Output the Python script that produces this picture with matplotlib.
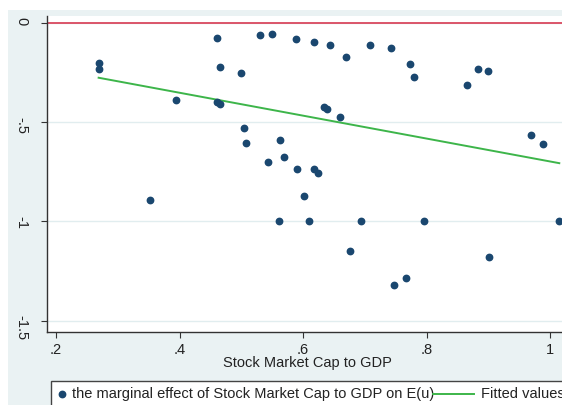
import matplotlib
matplotlib.use("Agg")
import matplotlib.pyplot as plt
from matplotlib.patches import Rectangle
from matplotlib.lines import Line2D

plt.rcParams['font.family'] = 'Liberation Sans'

# stock market cap / GDP vs marginal effect on E(u)
mcap = [0.269, 0.269, 0.352, 0.395, 0.460, 0.461, 0.466, 0.466, 0.500, 0.504,
        0.508, 0.530, 0.544, 0.550, 0.561, 0.562, 0.569, 0.589, 0.590, 0.602,
        0.609, 0.618, 0.618, 0.625, 0.634, 0.639, 0.643, 0.660, 0.669, 0.676,
        0.694, 0.709, 0.743, 0.748, 0.767, 0.773, 0.780, 0.796, 0.866, 0.883,
        0.899, 0.901, 0.969, 0.988, 1.015]
effect = [-0.201, -0.231, -0.892, -0.389, -0.075, -0.399, -0.409, -0.221, -0.252, -0.528,
          -0.604, -0.062, -0.700, -0.055, -1.000, -0.592, -0.677, -0.082, -0.735, -0.872,
          -1.000, -0.096, -0.738, -0.755, -0.424, -0.436, -0.111, -0.473, -0.174, -1.147,
          -1.000, -0.112, -0.127, -1.322, -1.285, -0.206, -0.273, -1.000, -0.314, -0.231,
          -0.245, -1.178, -0.567, -0.612, -1.000]

# fitted values at the ends of the sample
fit_x = [0.269, 1.015]
fit_y = [-0.277, -0.707]

xticks = [0.2, 0.4, 0.6, 0.8, 1.0]
xticklabels = ['.2', '.4', '.6', '.8', '1']
yticks = [0, -0.5, -1, -1.5]
yticklabels = ['0', '-.5', '-1', '-1.5']

W, H = 562, 405
navy = '#1A476F'
green = '#3DB54A'
bluish = '#EAF2F3'
dark = '#333333'
fs = 10.5

fig = plt.figure(figsize=(W / 100, H / 100), dpi=100, facecolor='white')
fig.patches.append(Rectangle((8 / W, 0), 1, (H - 10) / H, transform=fig.transFigure,
                             facecolor=bluish, edgecolor='none', zorder=-10))

ax = fig.add_axes([47 / W, (H - 331.7) / H, (568 - 47) / W, (331.7 - 16) / H])
ax.set_facecolor('white')
ax.set_xlim(0.1854, 1.0291)
ax.set_ylim(-1.5551, 0.0337)

for side in ['top', 'right']:
    ax.spines[side].set_visible(False)
for side in ['left', 'bottom']:
    ax.spines[side].set_color(dark)
    ax.spines[side].set_linewidth(1.0)

ax.set_xticks(xticks)
ax.set_xticklabels(xticklabels)
ax.set_yticks(yticks)
ax.set_yticklabels(yticklabels)
ax.tick_params(axis='both', direction='out', length=4.3, width=0.8, color=dark,
               labelsize=fs, labelcolor='#222222')
ax.tick_params(axis='y', pad=9, labelrotation=-90)
ax.tick_params(axis='x', pad=4)

ax.yaxis.grid(True, color='#E1EDEF', lw=1.0)
ax.set_axisbelow(True)

ax.axhline(0, color='#D9485E', lw=1.3, zorder=2)
ax.plot(fit_x, fit_y, color=green, lw=1.4, zorder=2)
ax.plot(mcap, effect, 'o', ls='none', ms=4.6, color=navy, zorder=3)

ax.set_xlabel('Stock Market Cap to GDP', fontsize=fs, color='#222222', labelpad=-1)

# legend box along the bottom
ly = 1 - 394 / H
fig.patches.append(Rectangle((51 / W, -0.1), 1, (H - 381) / H + 0.1, transform=fig.transFigure,
                             facecolor='white', edgecolor='#444444', lw=1.0, zorder=1))
fig.add_artist(Line2D([62 / W], [ly], marker='o', ms=4.6, color=navy, ls='none', zorder=2))
fig.text(72 / W, ly, 'the marginal effect of Stock Market Cap to GDP on E(u)',
         fontsize=fs, color='#222222', va='center', ha='left', zorder=2)
fig.add_artist(Line2D([432.7 / W, 473.7 / W], [ly, ly], color=green, lw=1.4, zorder=3))
fig.text(481 / W, ly, 'Fitted values', fontsize=fs, color='#222222', va='center', ha='left', zorder=2)

fig.savefig('out.png', dpi=100, facecolor=fig.get_facecolor())
